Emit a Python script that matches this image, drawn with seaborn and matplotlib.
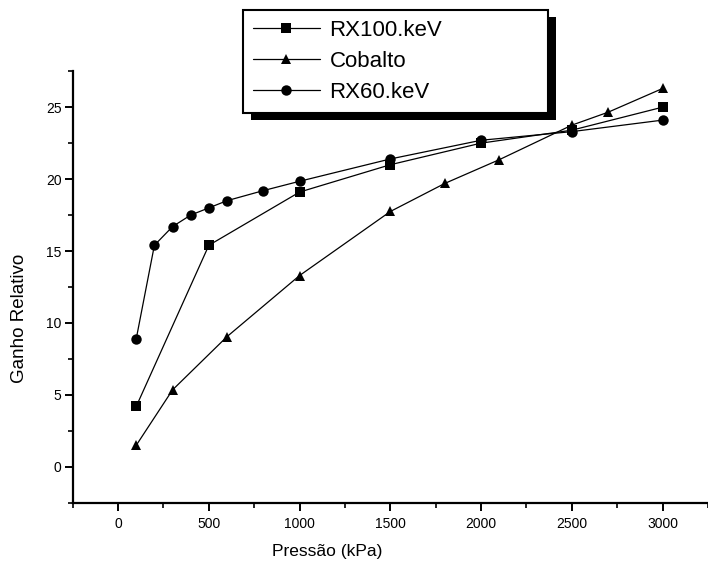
import pandas as pd
import seaborn as sns
import matplotlib.pyplot as plt
from matplotlib.patches import Rectangle
from matplotlib.ticker import MultipleLocator
from matplotlib.transforms import IdentityTransform

rx100_x = [100, 500, 1000, 1500, 2000, 2500, 3000]
rx100_y = [4.2, 15.4, 19.1, 21.0, 22.5, 23.4, 25.0]

cobalto_x = [100, 300, 600, 1000, 1500, 1800, 2100, 2500, 2700, 3000]
cobalto_y = [1.5, 5.35, 9.05, 13.3, 17.75, 19.7, 21.35, 23.75, 24.65, 26.3]

rx60_x = [100, 200, 300, 400, 500, 600, 800, 1000, 1500, 2000, 2500, 3000]
rx60_y = [8.9, 15.4, 16.7, 17.5, 18.0, 18.5, 19.2, 19.85, 21.4, 22.7, 23.3, 24.1]

series = ["RX100.keV", "Cobalto", "RX60.keV"]

df = pd.concat([
    pd.DataFrame({"x": rx100_x, "y": rx100_y, "serie": series[0]}),
    pd.DataFrame({"x": cobalto_x, "y": cobalto_y, "serie": series[1]}),
    pd.DataFrame({"x": rx60_x, "y": rx60_y, "serie": series[2]}),
])

sns.set_style("ticks")
plt.rcParams['font.family'] = ['Liberation Sans', 'DejaVu Sans']
for k in ["text.color", "axes.labelcolor", "xtick.color", "ytick.color",
          "axes.edgecolor"]:
    plt.rcParams[k] = "black"

fig = plt.figure(figsize=(7.08, 5.65), dpi=100)
ax = fig.add_axes([0.1027, 0.110, 0.8973, 0.764])

markers = {"RX100.keV": "s", "Cobalto": "^", "RX60.keV": "o"}
sizes = {"RX100.keV": 6.5, "Cobalto": 7.5, "RX60.keV": 7.5}
for s in series:
    sns.lineplot(data=df[df["serie"] == s], x="x", y="y", ax=ax,
                 color="black", marker=markers[s], markersize=sizes[s],
                 markeredgewidth=0, linewidth=0.9, label=s, sort=False)

ax.set_xlim(-250, 3250)
ax.set_ylim(-2.5, 27.5)
ax.xaxis.set_major_locator(MultipleLocator(500))
ax.xaxis.set_minor_locator(MultipleLocator(250))
ax.yaxis.set_major_locator(MultipleLocator(5))
ax.yaxis.set_minor_locator(MultipleLocator(2.5))
ax.tick_params(which="major", length=6, width=1.4, labelsize=10, pad=4)
ax.tick_params(which="minor", length=3.5, width=1.2)
ax.tick_params(axis="y", pad=2)

for side in ["top", "right"]:
    ax.spines[side].set_visible(False)
for side in ["left", "bottom"]:
    ax.spines[side].set_linewidth(1.6)

ax.set_xlabel("Pressão (kPa)", fontsize=12.5)
ax.set_ylabel("Ganho Relativo", fontsize=13.5)
ax.xaxis.set_label_coords(0.401, -0.095)
ax.yaxis.set_label_coords(-0.071, 0.428)

handles, labels = ax.get_legend_handles_labels()
leg = ax.legend(handles, labels, loc="upper left",
                bbox_to_anchor=(0.343, 0.805, 0.431, 0.177),
                bbox_transform=fig.transFigure, mode="expand",
                borderaxespad=0, fontsize=16, handlelength=3,
                handletextpad=0.45, labelspacing=0.45, borderpad=0.45,
                frameon=True, fancybox=False, edgecolor="black",
                facecolor="white", framealpha=1)
leg.get_frame().set_linewidth(1.5)
leg.set_zorder(6)

fig.canvas.draw()
bb = leg.get_window_extent()
shadow = Rectangle((bb.x0 + 8, bb.y0 - 7), bb.width, bb.height,
                   transform=IdentityTransform(), facecolor="black",
                   edgecolor="none", zorder=5.5, clip_on=False)
ax.add_patch(shadow)

fig.savefig("out.png", dpi=100)
